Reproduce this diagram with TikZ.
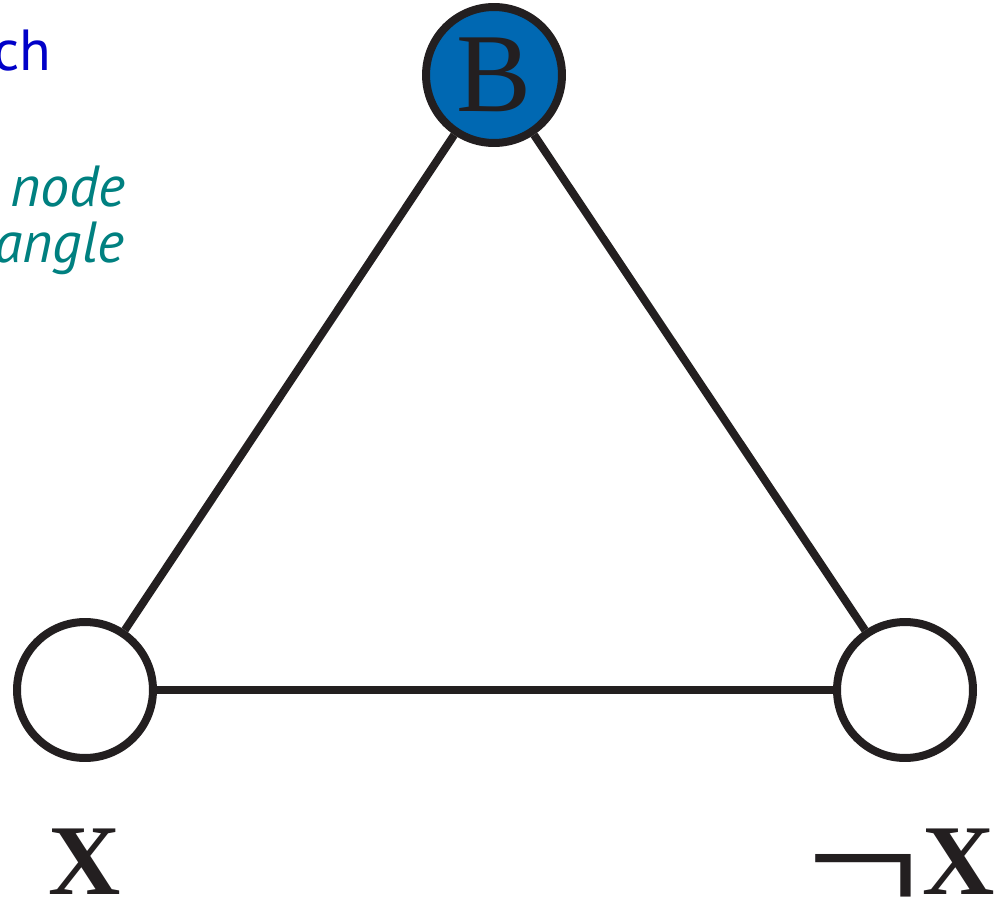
\documentclass[tikz,border=0pt]{standalone}
\usepackage{fontspec}
\setmainfont{Liberation Serif}
\newfontfamily\notesans{PT Sans}
\definecolor{ink}{RGB}{35,31,32}
\definecolor{nodeblue}{RGB}{0,104,178}
\definecolor{titleblue}{RGB}{0,0,200}
\definecolor{noteteal}{RGB}{0,128,128}
\begin{document}
\begin{tikzpicture}[x=0.02cm,y=-0.02cm,
  vertex/.style={circle, draw=ink, line width=0.16cm, minimum size=2.72cm, inner sep=0pt, fill=white},
  link/.style={draw=ink, line width=0.16cm},
  vlabel/.style={anchor=base, inner sep=0pt, text=ink, font=\fontsize{57pt}{57pt}\selectfont\bfseries},
  note/.style={anchor=base east, inner sep=0pt, font=\notesans\fontsize{33pt}{33pt}\selectfont}]
\useasboundingbox (0,0) rectangle (1003,898);
\node[vertex, fill=nodeblue, text=ink, font=\fontsize{64pt}{64pt}\selectfont] (B) at (494,75) {B};
\node[vertex] (X) at (85,690) {};
\node[vertex] (NX) at (905,690) {};
\draw[link] (B) -- (X);
\draw[link] (B) -- (NX);
\draw[link] (X) -- (NX);
\node[vlabel] (XL) at (85,894) {X};
\node[vlabel] (NXL) at (959,894) {X};
\node[anchor=south east, inner sep=0pt, text=ink] (NEG) at (921.5,913.5) {\resizebox{2.31cm}{1.18cm}{¬}};
\node[note, text=titleblue] (t1) at (52,71) {ch};
\node[note, text=noteteal] (t2) at (126,207) {\itshape node};
\node[note, text=noteteal] (t3) at (125,263) {\itshape angle};
\end{tikzpicture}
\end{document}
